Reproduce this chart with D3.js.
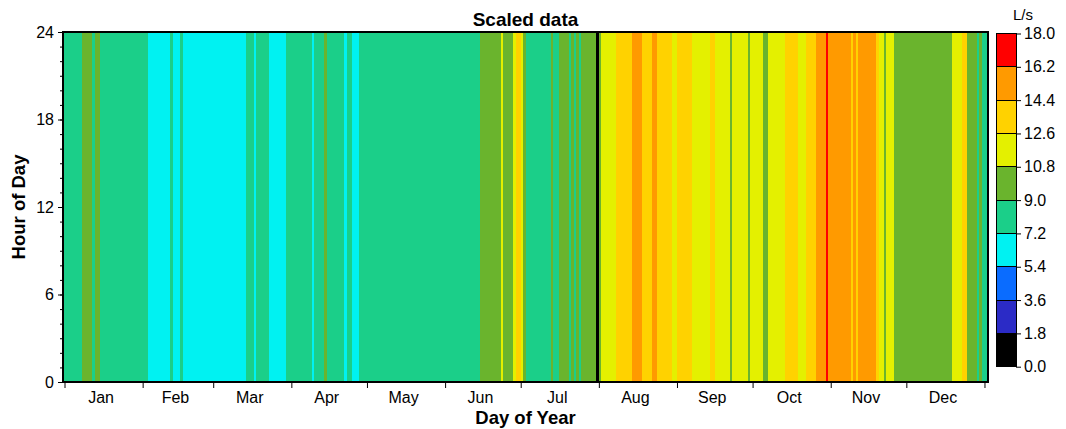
<!DOCTYPE html>
<html>
<head>
<meta charset="utf-8">
<script src="https://cdn.jsdelivr.net/npm/d3@7"></script>
<style>
  html, body { margin: 0; padding: 0; background: #ffffff; }
  svg { display: block; font-family: "Liberation Sans", Arial, sans-serif; }
  .tick text { fill: #000; }
</style>
</head>
<body>
<svg id="chart" width="1066" height="429"></svg>
<script>
// Month labels and lengths (non-leap year)
const months = ["Jan", "Feb", "Mar", "Apr", "May", "Jun", "Jul", "Aug", "Sep", "Oct", "Nov", "Dec"];
const monthDays = [31, 28, 31, 30, 31, 30, 31, 31, 30, 31, 30, 31];

// Daily scaled flow (L/s), one value per day, constant across the hours of that day
const jan = [8.4, 8.6, 8.3, 8.1, 8.5, 8.7, 8.8, 9.4, 9.7, 9.5, 9.2, 8.9, 9.3, 9.1,
             8.6, 8.4, 8.2, 8.0, 8.3, 8.1, 7.9, 7.8, 7.9, 7.7, 7.6, 7.8, 7.5, 7.6, 7.4, 7.5, 7.3];
const feb = [7.4, 7.3, 7.0, 6.8, 6.6, 6.5, 6.7, 6.4, 6.6, 6.9, 7.1, 7.3, 7.0, 6.8,
             7.1, 7.3, 7.0, 6.7, 6.5, 6.3, 6.2, 6.4, 6.6, 6.5, 6.8, 6.9, 7.0, 6.7];
const mar = [6.9, 7.1, 6.8, 6.6, 6.5, 6.7, 6.9, 7.0, 6.8, 6.6, 6.9, 7.1, 7.0, 7.5,
             7.8, 7.4, 7.1, 7.6, 7.9, 8.1, 7.7, 7.4, 7.1, 6.9, 6.7, 6.6, 6.8, 7.0, 7.1, 7.5, 7.8];
const apr = [8.0, 8.2, 7.9, 7.6, 7.8, 8.1, 7.7, 7.4, 7.1, 7.6, 8.0, 8.4, 8.8, 9.1,
             8.7, 8.3, 8.0, 7.8, 7.6, 7.5, 7.3, 7.1, 7.4, 7.3, 7.0, 6.9, 7.1, 7.5, 7.8, 8.0];
const may = [8.2, 8.4, 8.1, 7.9, 8.3, 8.6, 8.5, 8.2, 8.0, 7.8, 8.1, 8.4, 8.7, 8.5,
             8.3, 8.0, 7.9, 8.2, 8.5, 8.6, 8.4, 8.1, 7.9, 7.7, 8.0, 8.3, 8.5, 8.2, 8.0, 8.4, 8.6];
const jun = [8.5, 8.3, 8.6, 8.4, 8.2, 8.5, 8.7, 8.8, 8.6, 8.4, 8.7, 8.9, 8.8, 8.9,
             9.4, 9.8, 10.2, 10.0, 9.7, 9.5, 9.9, 10.4, 11.2, 10.5, 10.1, 9.8, 10.3, 11.4, 13.1, 12.9];
const jul = [11.3, 9.9, 8.9, 8.7, 8.5, 8.6, 8.8, 8.7, 8.5, 8.4, 8.6, 8.8, 9.2, 8.9,
             8.8, 9.3, 9.6, 9.4, 9.2, 8.9, 9.1, 8.9, 9.2, 8.9, 9.4, 9.8, 10.1, 9.9, 10.2, 10.4, 0.0];
const aug = [10.6, 11.4, 11.8, 12.1, 11.9, 12.3, 12.4, 12.8, 13.2, 13.6, 13.4, 13.9, 14.2, 14.8,
             15.3, 15.1, 14.7, 14.1, 13.8, 13.5, 14.0, 14.6, 14.9, 14.2, 13.9, 13.6, 13.3, 13.0, 12.8, 12.4, 12.2];
const sep = [12.8, 13.1, 13.5, 13.3, 13.0, 12.7, 12.4, 12.1, 11.8, 11.6, 11.9, 12.2, 12.5, 12.9,
             12.7, 12.3, 12.0, 11.7, 11.4, 11.1, 10.9, 10.6, 11.0, 11.3, 11.6, 11.5, 11.2, 10.9, 10.7, 11.1];
const oct = [11.4, 11.6, 11.3, 11.0, 10.5, 10.6, 11.0, 11.4, 11.8, 12.1, 12.3, 12.0, 12.4, 12.8,
             13.1, 13.4, 13.2, 12.9, 12.5, 12.2, 12.4, 12.9, 13.5, 13.9, 14.2, 14.6, 15.0, 15.4, 15.8, 16.5, 15.9];
const nov = [15.6, 15.3, 15.1, 14.9, 15.2, 15.0, 14.8, 14.6, 14.3, 14.5, 14.2, 14.6, 14.9, 15.2,
             15.0, 14.8, 14.7, 14.5, 13.6, 12.3, 11.9, 10.7, 11.2, 11.5, 10.9, 10.5, 10.3, 10.1, 9.9, 10.2];
const dec = [10.0, 9.8, 10.2, 10.4, 10.1, 9.9, 9.7, 10.0, 10.3, 10.5, 10.2, 10.0, 9.8, 10.1,
             10.4, 10.6, 10.3, 10.5, 11.1, 11.6, 12.0, 12.3, 12.8, 12.7, 10.4, 10.0, 9.6, 9.3, 8.9, 9.2, 8.8];

const hourTicks = [0, 6, 12, 18, 24];
const bandBreaks = [1.8, 3.6, 5.4, 7.2, 9.0, 10.8, 12.6, 14.4, 16.2];
const bandColors = ["#000000", "#2b2bc6", "#0a6cff", "#00f2f2", "#1bcf89",
                    "#6ab42d", "#e4f000", "#ffd200", "#ff9a00", "#ff0000"];
const legendTicks = [0.0, 1.8, 3.6, 5.4, 7.2, 9.0, 10.8, 12.6, 14.4, 16.2, 18.0];

const daily = [].concat(jan, feb, mar, apr, may, jun, jul, aug, sep, oct, nov, dec);

// Month start / middle positions in day-of-year (0-based)
const monthStarts = [];
const monthMids = [];
monthDays.reduce((acc, n) => { monthStarts.push(acc); monthMids.push(acc + n / 2); return acc + n; }, 0);
monthStarts.push(365);

const svg = d3.select("#chart");
const plotLeft = 63, plotRight = 988, plotTop = 32, plotBottom = 382;

const x = d3.scaleLinear().domain([-0.6, 366.4]).range([plotLeft, plotRight]);
const y = d3.scaleLinear().domain([0, 24]).range([plotBottom, plotTop]);
const color = d3.scaleThreshold().domain(bandBreaks).range(bandColors);

// Heat-map cells: one column per day covering all 24 hours
const nDays = daily.length;
const cellStart = i => (i === 0 ? x.domain()[0] : i);
const cellEnd = i => (i === nDays - 1 ? x.domain()[1] : i + 1);
svg.append("g")
  .attr("shape-rendering", "crispEdges")
  .selectAll("rect")
  .data(daily)
  .join("rect")
  .attr("x", (d, i) => x(cellStart(i)))
  .attr("width", (d, i) => x(cellEnd(i)) - x(cellStart(i)))
  .attr("y", y(24))
  .attr("height", y(0) - y(24))
  .attr("fill", d => color(d));

// Frame
svg.append("rect")
  .attr("x", plotLeft).attr("y", plotTop)
  .attr("width", plotRight - plotLeft).attr("height", plotBottom - plotTop)
  .attr("fill", "none").attr("stroke", "#000").attr("stroke-width", 1.2)
  .attr("shape-rendering", "crispEdges");

// Y axis: hourly minor ticks plus labelled major ticks
const yMinor = svg.append("g").attr("transform", `translate(${plotLeft},0)`)
  .call(d3.axisLeft(y).tickValues(d3.range(0, 25)).tickSize(3).tickFormat(""));
yMinor.select(".domain").remove();
const yMajor = svg.append("g").attr("transform", `translate(${plotLeft},0)`)
  .call(d3.axisLeft(y).tickValues(hourTicks).tickSize(5).tickPadding(4).tickFormat(d3.format("d")));
yMajor.select(".domain").remove();
yMajor.selectAll("text").style("font-size", "16px");

// X axis: ticks at month boundaries, labels at mid-month
const xTicks = svg.append("g").attr("transform", `translate(0,${plotBottom})`)
  .call(d3.axisBottom(x).tickValues(monthStarts).tickSize(6).tickFormat(""));
xTicks.select(".domain").remove();
const xLabels = svg.append("g").attr("transform", `translate(0,${plotBottom})`)
  .call(d3.axisBottom(x).tickValues(monthMids).tickSize(0).tickPadding(10)
        .tickFormat((d, i) => months[i]));
xLabels.select(".domain").remove();
xLabels.selectAll("text").style("font-size", "16px").attr("dx", -3);

svg.selectAll(".tick line").attr("stroke", "#000");

// Titles
svg.append("text").attr("x", (plotLeft + plotRight) / 2).attr("y", 26)
  .attr("text-anchor", "middle").style("font-size", "19px").style("font-weight", "bold")
  .text("Scaled data");
svg.append("text").attr("x", (plotLeft + plotRight) / 2).attr("y", 424)
  .attr("text-anchor", "middle").style("font-size", "18.5px").style("font-weight", "bold")
  .text("Day of Year");
svg.append("text").attr("transform", `translate(25,${(plotTop + plotBottom) / 2}) rotate(-90)`)
  .attr("text-anchor", "middle").style("font-size", "18.5px").style("font-weight", "bold")
  .text("Hour of Day");

// Colour bar
const cbX = 996, cbW = 20;
const cy = d3.scaleLinear().domain([0, 18]).range([366.7, 33.5]);
svg.append("g")
  .selectAll("rect")
  .data(bandColors)
  .join("rect")
  .attr("x", cbX)
  .attr("y", (d, i) => cy(legendTicks[i + 1]))
  .attr("width", cbW)
  .attr("height", (d, i) => cy(legendTicks[i]) - cy(legendTicks[i + 1]))
  .attr("fill", d => d)
  .attr("stroke", "#000").attr("stroke-width", 1)
  .attr("shape-rendering", "crispEdges");
const cAxis = svg.append("g").attr("transform", `translate(${cbX + cbW},0)`)
  .call(d3.axisRight(cy).tickValues(legendTicks).tickSize(5).tickPadding(3).tickFormat(d3.format(".1f")));
cAxis.select(".domain").remove();
cAxis.selectAll("text").style("font-size", "16px");
cAxis.selectAll("line").attr("stroke", "#000");
svg.append("text").attr("x", 1013).attr("y", 20)
  .style("font-size", "15px").text("L/s");
</script>
</body>
</html>
